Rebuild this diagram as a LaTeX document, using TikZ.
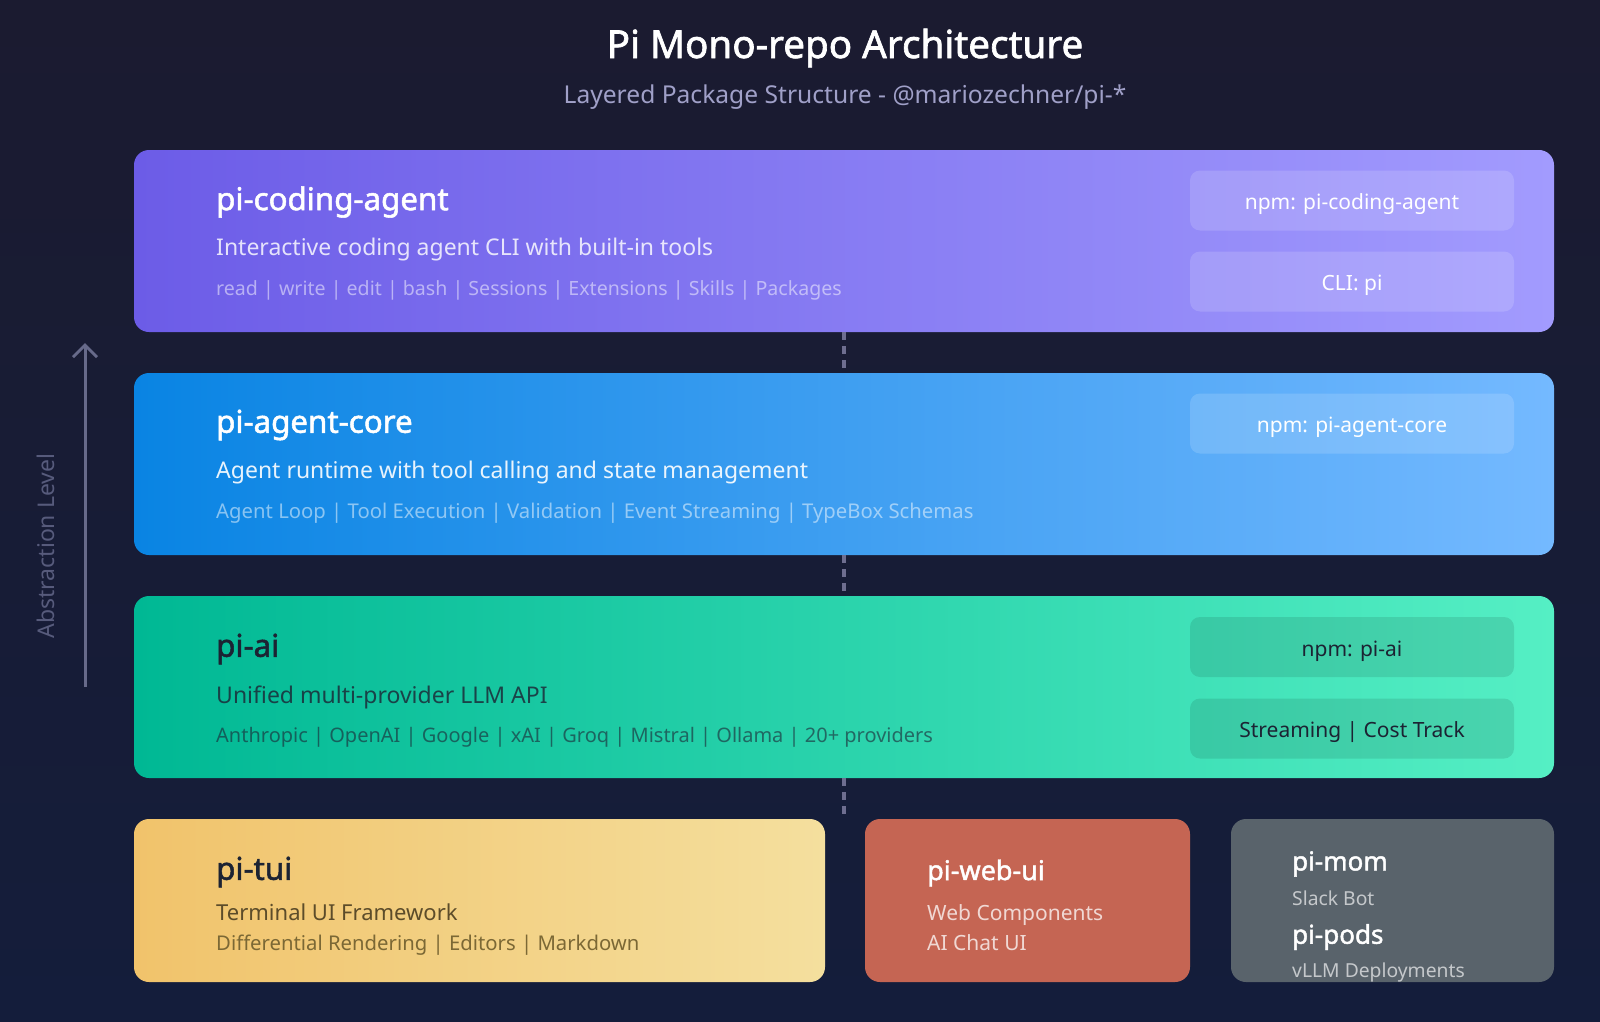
\documentclass[tikz,border=0pt]{standalone}
\usepackage{fontspec}
\setmainfont{Noto Sans}
\newfontfamily\semib{Noto Sans}[FakeBold=1.7]
\usetikzlibrary{arrows.meta}
\definecolor{bgtop}{HTML}{1B1B30}
\definecolor{bgbot}{HTML}{141D3B}
\definecolor{aL}{HTML}{6C5CE7}\definecolor{aR}{HTML}{A29BFE}
\definecolor{bL}{HTML}{0984E3}\definecolor{bR}{HTML}{74B9FF}
\definecolor{cL}{HTML}{00B894}\definecolor{cR}{HTML}{55EFC4}
\definecolor{dL}{HTML}{F1C36B}\definecolor{dR}{HTML}{F4DF9E}
\definecolor{webc}{HTML}{C56553}
\definecolor{momc}{HTML}{59636B}
\definecolor{dashc}{HTML}{6E6E90}
\definecolor{arrc}{HTML}{676A8A}
\definecolor{absc}{HTML}{575B7C}
\definecolor{subc}{HTML}{A0A0C8}
\definecolor{darkt}{HTML}{1C2333}
\definecolor{tuid}{HTML}{5C4C2A}
\definecolor{tuif}{HTML}{7B6835}
\begin{document}
\begin{tikzpicture}[x=1pt,y=-1pt,
  layer/.style={rounded corners=15pt, minimum width=1420pt, minimum height=182pt, inner sep=0pt},
  small/.style={rounded corners=15pt, minimum height=163pt, inner sep=0pt},
  tag/.style={rounded corners=10pt, minimum width=324pt, minimum height=60pt, inner sep=0pt, text height=18pt, text depth=0pt, font=\fontsize{21}{25}\selectfont},
  ttl/.style={anchor=west, inner sep=0pt, font=\fontsize{31.3}{36}\semib},
  dsc/.style={anchor=west, inner sep=0pt, font=\fontsize{23}{27}\selectfont},
  fea/.style={anchor=west, inner sep=0pt, font=\fontsize{20}{24}\selectfont},
  dashline/.style={dashc, line width=4pt, dash pattern=on 8pt off 6pt},
]
\shade[top color=bgtop, bottom color=bgbot] (0,0) rectangle (1600,1022);
\useasboundingbox (0,0) rectangle (1600,1022);

% title
\node[font=\fontsize{38.6}{44}\semib, text=white] (title) at (845,48) {Pi Mono-repo Architecture};
\node[font=\fontsize{24.6}{30}\selectfont, text=subc] (sub) at (845,97) {Layered Package Structure - @mariozechner/pi-*};

% layers
\node[layer, left color=aL, right color=aR] (L1) at (844,241) {};
\node[layer, left color=bL, right color=bR] (L2) at (844,464) {};
\node[layer, left color=cL, right color=cR] (L3) at (844,687) {};

% bottom boxes
\node[small, minimum width=691pt, left color=dL, right color=dR] (tui) at (479.5,900.5) {};
\node[small, minimum width=325pt, fill=webc] (web) at (1027.5,900.5) {};
\node[small, minimum width=323pt, fill=momc] (mom) at (1392.5,900.5) {};

% connectors
\coordinate (bt) at (L3.south |- tui.north);
\draw[dashline] (L1.south) -- (L2.north);
\draw[dashline] (L2.south) -- (L3.north);
\draw[dashline] (L3.south) -- (bt);

% layer 1 text
\node[ttl, text=white] (t1) at (216,202) {pi-coding-agent};
\node[dsc, text=white, text opacity=0.82] (d1) at (216,250) {Interactive coding agent CLI with built-in tools};
\node[fea, text=white, text opacity=0.5, font=\fontsize{19.6}{24}\selectfont] (f1) at (216,290) {read | write | edit | bash | Sessions | Extensions | Skills | Packages};
\node[tag, fill=white, fill opacity=0.15, text=white, text opacity=1] (n1) at (1352,200.5) {npm: pi-coding-agent};
\node[tag, fill=white, fill opacity=0.15, text=white, text opacity=1] (c1) at (1352,281.5) {CLI: pi};

% layer 2 text
\node[ttl, text=white] (t2) at (216,425) {pi-agent-core};
\node[dsc, text=white, text opacity=0.9] (d2) at (216,473) {Agent runtime with tool calling and state management};
\node[fea, text=white, text opacity=0.5, font=\fontsize{20.3}{24}\selectfont] (f2) at (216,513) {Agent Loop | Tool Execution | Validation | Event Streaming | TypeBox Schemas};
\node[tag, fill=white, fill opacity=0.15, text=white, text opacity=1] (n2) at (1352,423.5) {npm: pi-agent-core};

% layer 3 text
\node[ttl, text=darkt] (t3) at (216,649) {pi-ai};
\node[dsc, text=darkt, text opacity=0.8] (d3) at (216,697) {Unified multi-provider LLM API};
\node[fea, text=darkt, text opacity=0.6] (f3) at (216,737) {Anthropic | OpenAI | Google | xAI | Groq | Mistral | Ollama | 20+ providers};
\node[tag, fill=black, fill opacity=0.1, text=darkt, text opacity=1] (n3) at (1352,647) {npm: pi-ai};
\node[tag, fill=black, fill opacity=0.1, text=darkt, text opacity=1] (s3) at (1352,728.5) {Streaming | Cost Track};

% pi-tui
\node[ttl, text=darkt] (t4) at (216,872) {pi-tui};
\node[dsc, text=tuid, font=\fontsize{22}{26}\selectfont] (d4) at (216,912) {Terminal UI Framework};
\node[dsc, text=tuif, font=\fontsize{20.3}{24}\selectfont] (f4) at (216,945) {Differential Rendering | Editors | Markdown};

% pi-web-ui
\node[ttl, text=white, font=\fontsize{27}{33}\semib] (t5) at (927,873) {pi-web-ui};
\node[dsc, text=white, text opacity=0.75, font=\fontsize{21}{25}\selectfont] (d5) at (927,915) {Web Components};
\node[dsc, text=white, text opacity=0.75, font=\fontsize{21}{25}\selectfont] (e5) at (927,943) {AI Chat UI};

% pi-mom / pi-pods
\node[ttl, text=white, font=\fontsize{26}{31}\semib] (t6) at (1292,864) {pi-mom};
\node[dsc, text=white, text opacity=0.65, font=\fontsize{19.3}{23}\selectfont] (d6) at (1292,898) {Slack Bot};
\node[ttl, text=white, font=\fontsize{26}{31}\semib] (t7) at (1292,937) {pi-pods};
\node[dsc, text=white, text opacity=0.65, font=\fontsize{19.3}{23}\selectfont] (d7) at (1292,972) {vLLM Deployments};

% abstraction arrow
\coordinate (ab1) at (85,687);
\coordinate (ab2) at (85,343);
\draw[arrc, line width=3pt, -{Straight Barb[length=12pt,width=24pt,line width=3pt]}] (ab1) -- (ab2);
\node[rotate=90, text=absc, font=\fontsize{23}{27}\selectfont] (abs) at (46,546) {Abstraction Level};
\end{tikzpicture}
\end{document}
